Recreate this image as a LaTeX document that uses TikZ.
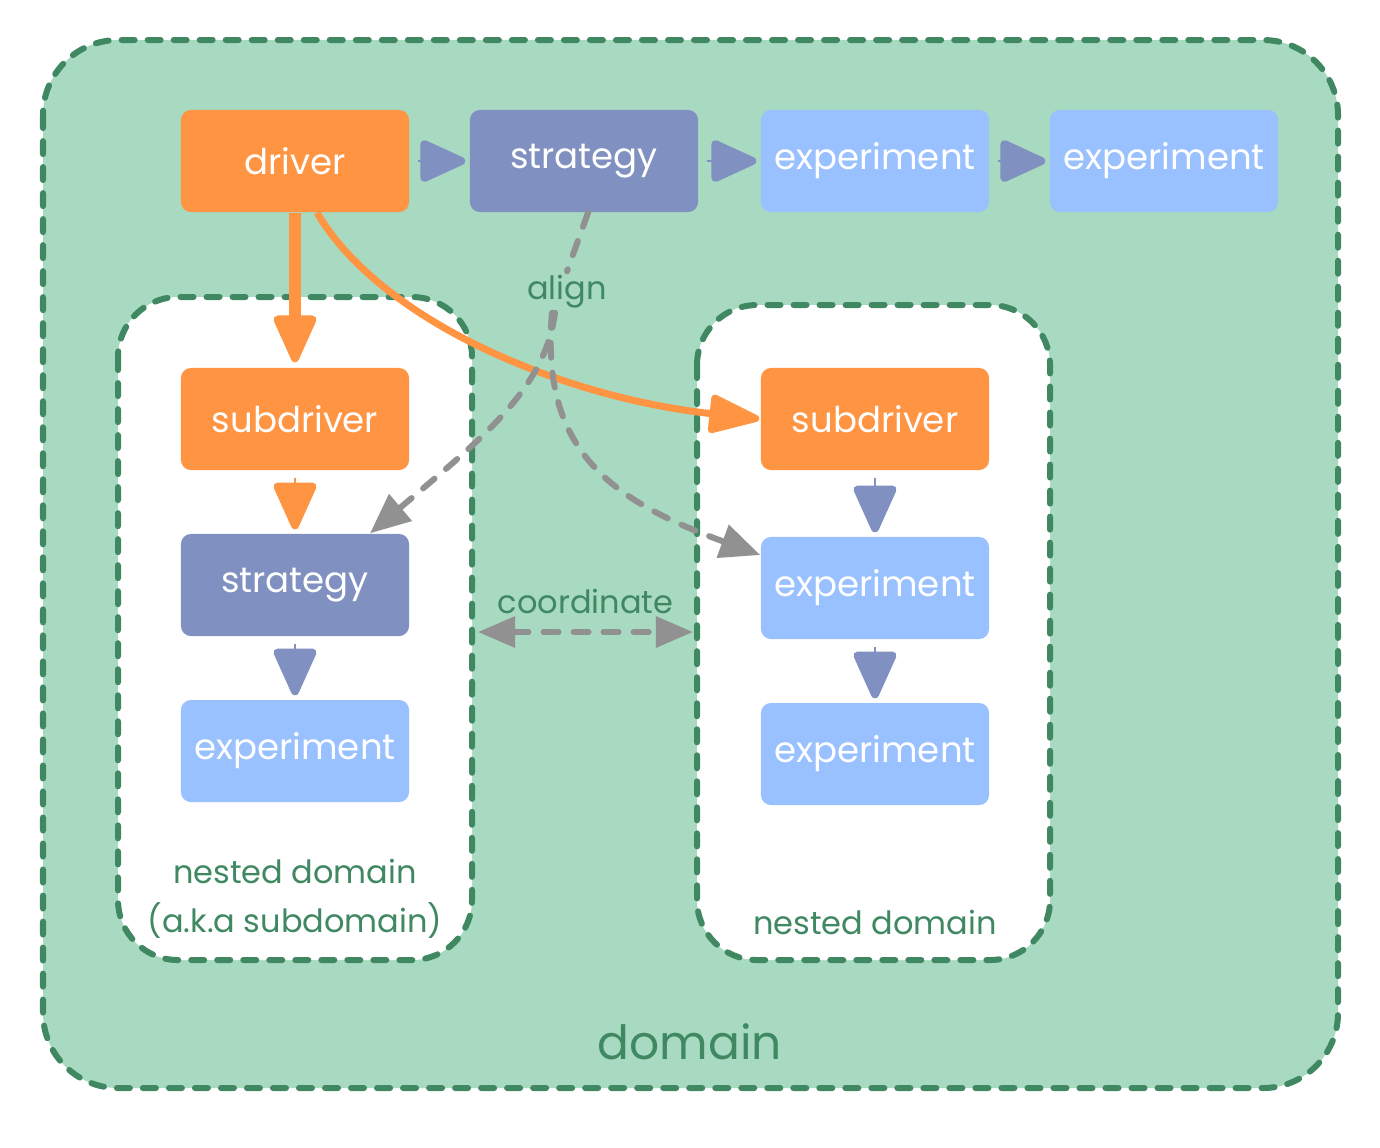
\documentclass[tikz,border=0pt]{standalone}
\usepackage{fontspec}
\setmainfont{Poppins}
\usetikzlibrary{arrows.meta}
\definecolor{domfill}{HTML}{A8D9C1}
\definecolor{domline}{HTML}{3F8862}
\definecolor{orng}{HTML}{FF9442}
\definecolor{stratc}{HTML}{8090C0}
\definecolor{expc}{HTML}{99C0FF}
\definecolor{grayc}{HTML}{919191}
\newcommand\boxfont{\fontsize{10.1}{12}\selectfont}
\newcommand\lblfont{\fontsize{9.1}{11}\selectfont}
\newcommand\domfont{\fontsize{13.4}{16}\selectfont}
\begin{document}
\begin{tikzpicture}[x=0.01cm,y=-0.01cm,
  box/.style={rounded corners=0.1cm, minimum width=2.28cm, minimum height=1.02cm, text=white, font=\boxfont, inner sep=0pt},
  drv/.style={box, fill=orng},
  stg/.style={box, fill=stratc},
  exb/.style={box, fill=expc},
  dashbord/.style={draw=domline, line width=0.06cm, dash pattern=on 0.13cm off 0.13cm, line cap=round},
  lbl/.style={text=domline, font=\lblfont, inner sep=1pt},
  bigtip/.style={-{Triangle[length=0.53cm,width=0.45cm,round,line width=0.08cm]}},
  sidetip/.style={-{Triangle[length=0.51cm,width=0.44cm,round,line width=0.08cm]}},
  flow/.style={line width=0.02cm, shorten <=0.07cm, shorten >=0.04cm, bigtip},
  grayedge/.style={draw=grayc, line width=0.06cm, line cap=round, dash pattern=on 0.15cm off 0.15cm},
  graytip/.style={-{Triangle[length=0.4cm,width=0.34cm]}},
]
\useasboundingbox (0,0) rectangle (1380,1147);
% outer domain
\path[dashbord, fill=domfill, rounded corners=0.75cm] (43,40) rectangle (1338,1088);
\node[text=domline, font=\domfont] (domlbl) at (690,1042) {domain};
% nested domains
\path[dashbord, fill=white, rounded corners=0.6cm] (118,297) rectangle (472,960);
\path[dashbord, fill=white, rounded corners=0.6cm] (697,305) rectangle (1050,960);
\node[lbl, align=center] (nd1lbl) at (295,899) {nested domain\\[3pt](a.k.a subdomain)};
\node[lbl] (nd2lbl) at (875,922) {nested domain};
% nodes
\node[drv] (driver) at (295,161) {driver};
\node[stg] (st0) at (584,161) {strategy};
\node[exb] (ex0) at (875,161) {experiment};
\node[exb] (ex00) at (1164,161) {experiment};
\node[drv] (sd1) at (295,419) {subdriver};
\node[stg] (st1) at (295,585) {strategy};
\node[exb] (ex1) at (295,751) {experiment};
\node[drv] (sd2) at (875,419) {subdriver};
\node[exb] (ex2) at (875,588) {experiment};
\node[exb] (ex3) at (875,754) {experiment};
% top row
\draw[flow, stratc, sidetip, shorten <=0.08cm] (driver) -- (st0);
\draw[flow, stratc, sidetip, shorten <=0.08cm] (st0) -- (ex0);
\draw[flow, stratc, sidetip, shorten <=0.08cm] (ex0) -- (ex00);
% left column
\draw[orng, line width=0.12cm, shorten >=0.05cm, bigtip] (driver) -- (sd1);
\draw[flow, orng] (sd1) -- (st1);
\draw[flow, stratc] (st1) -- (ex1);
% right column
\draw[flow, stratc] (sd2) -- (ex2);
\draw[flow, stratc] (ex2) -- (ex3);
% curved driver -> subdriver
\draw[orng, line width=0.07cm, shorten >=0.01cm, -{Triangle[length=0.57cm,width=0.4cm,round,line width=0.07cm]}]
  ([xshift=0.22cm]driver.south) .. controls (380,320) and (560,397) .. (sd2.west);
% align
\node[lbl] (align) at (567,292) {align};
\draw[grayedge] ([xshift=0.04cm]st0.south) -- (align.north);
\draw[grayedge, graytip] ([xshift=-0.12cm]align.south) .. controls (545,390) and (480,440) .. ([xshift=0.75cm]st1.north);
\draw[grayedge, graytip] ([xshift=-0.15cm]align.south) .. controls (540,450) and (610,500) .. ([yshift=0.33cm]ex2.west);
% coordinate
\coordinate (cl) at (478,632);
\coordinate (cr) at (693,632);
\draw[grayedge, {Triangle[length=0.37cm,width=0.3cm]}-{Triangle[length=0.37cm,width=0.3cm]}] (cl) -- node[lbl, above=0.12cm] (coordlbl) {coordinate} (cr);
\end{tikzpicture}
\end{document}
